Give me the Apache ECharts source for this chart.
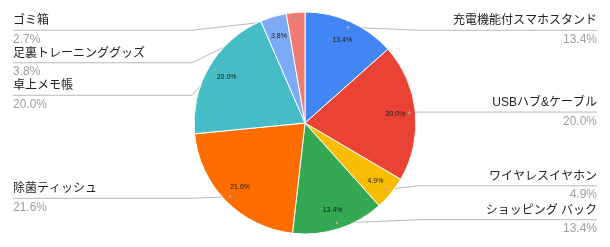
<!DOCTYPE html>
<html><head><meta charset="utf-8">
<script src="https://cdn.jsdelivr.net/npm/echarts@6/dist/echarts.min.js"></script>
<style>html,body{margin:0;padding:0;background:#fff}#c{width:610px;height:247px}</style>
</head><body><div id="c"></div>
<script>
var categories = ['充電機能付スマホスタンド', 'USBハブ&ケーブル', 'ワイヤレスイヤホン', 'ショッピング バック', '除菌ティッシュ', '卓上メモ帳', '足裏トレーニンググッズ', 'ゴミ箱'];
var values = [13.4, 20.0, 4.9, 13.4, 21.6, 20.0, 3.8, 2.7];
var colors = ['#4285F4', '#EA4335', '#FBBC04', '#34A853', '#FF6D01', '#46BDC6', '#7BAAF7', '#F07B72'];

var FONT = '"Liberation Sans", Arial, "Noto Sans CJK JP", sans-serif';
var W = 610, H = 247;
var CX = 305, CY = 123, R = 111, TOP = 14, BOTTOM = 11;

function pct(v) { return v.toFixed(1) + '%'; }

var mainData = categories.map(function (n, i) { return { name: n, value: values[i], itemStyle: { color: colors[i] } }; });
var innerData = categories.map(function (n, i) {
  return { name: n, value: values[i], label: { show: values[i] >= 3 } };
});
var outerData = categories.map(function (n, i) { return { name: n, value: values[i] }; });

var base = {
  type: 'pie', left: 0, right: 0, top: TOP, bottom: BOTTOM,
  center: [CX, CY - TOP], startAngle: 90, clockwise: true, silent: true, animation: false
};

var anchors = {};

var chart = echarts.init(document.getElementById('c'), null, { renderer: 'canvas' });
chart.setOption({
  backgroundColor: '#ffffff',
  animation: false,
  series: [
    Object.assign({}, base, {
      radius: [0, R],
      data: mainData,
      label: { show: false }, labelLine: { show: false },
      itemStyle: { borderColor: '#ffffff', borderWidth: 1 }
    }),
    Object.assign({}, base, {
      radius: [65, R],
      data: innerData,
      itemStyle: { color: 'rgba(0,0,0,0)' },
      label: {
        show: true, position: 'inside', fontFamily: FONT, fontSize: 7, color: '#1a1a1a',
        formatter: function (p) { return pct(p.value); }
      },
      labelLine: { show: false }
    }),
    Object.assign({}, base, {
      radius: [0, 105],
      data: outerData,
      itemStyle: { color: 'rgba(0,0,0,0)' },
      avoidLabelOverlap: true,
      label: {
        show: true, position: 'outer', alignTo: 'edge', edgeDistance: 13, distanceToLabelLine: 5,
        fontFamily: FONT,
        formatter: function (p) { return '{n|' + p.name + '}\n{p|' + pct(p.value) + '}'; },
        rich: {
          n: { fontFamily: FONT, fontSize: 12, color: '#222222', lineHeight: 19 },
          p: { fontFamily: FONT, fontSize: 12, color: '#9e9e9e', lineHeight: 18 }
        }
      },
      labelLine: { show: true, length: 2, length2: 5, lineStyle: { color: '#b8b8b8', width: 1 } },
      labelLayout: function (p) {
        var pts = p.labelLinePoints;
        if (!pts) return {};
        anchors[p.dataIndex] = pts[0];
        var r = p.labelRect;
        var isLeft = r.x + r.width / 2 < CX;
        var h = r.height;
        var cy = r.y + h / 2;
        var ny = Math.min(Math.max(cy, TOP + h / 2), H - BOTTOM - h / 2);
        var elbow = isLeft ? CX - R - 2 : CX + R + 3;
        var far = isLeft ? r.x : r.x + r.width;
        var out = { labelLinePoints: [pts[0], [elbow, ny], [far, ny]] };
        if (Math.abs(ny - cy) > 0.01) { out.y = ny; }
        return out;
      }
    })
  ]
});

// small anchor dots at the start of each label line, taken from the library's own label layout
var dots = Object.keys(anchors).map(function (k) {
  var a = anchors[k];
  return { type: 'circle', silent: true, z: 10, shape: { cx: a[0], cy: a[1], r: 1.3 }, style: { fill: '#a8a8a8' } };
});
chart.setOption({ graphic: dots });
</script>
</body></html>
